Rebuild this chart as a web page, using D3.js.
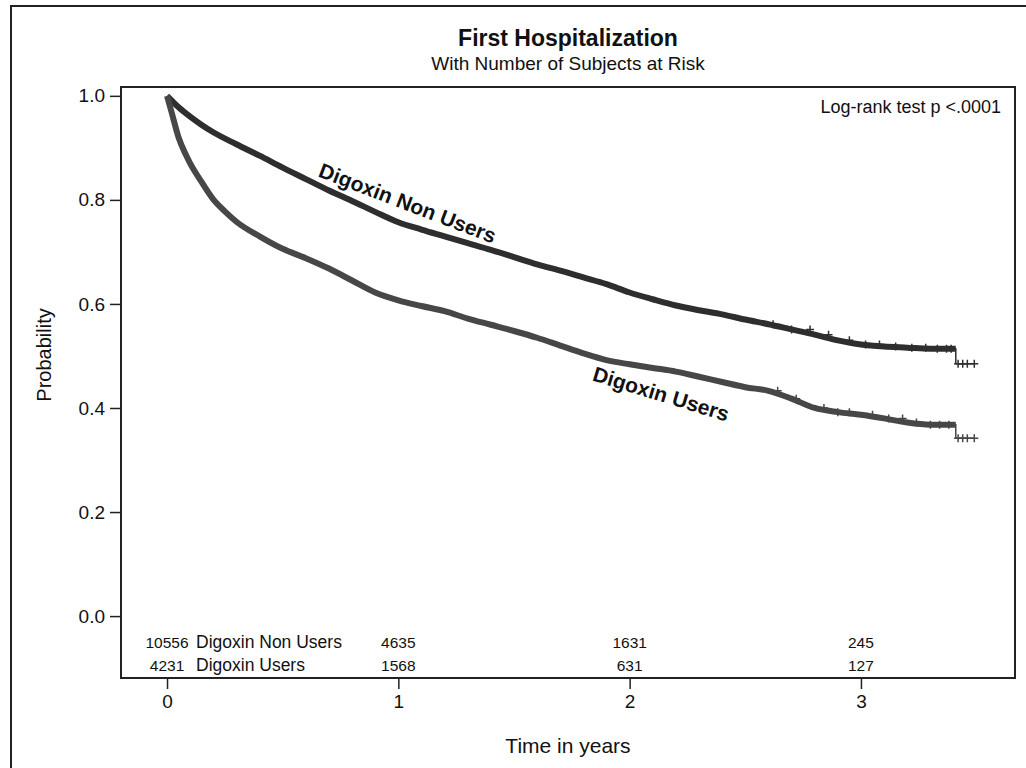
<!DOCTYPE html>
<meta charset="utf-8">
<script src="https://d3js.org/d3.v7.min.js"></script>
<style>
  body { margin: 0; background: #fff; }
  text { font-family: Arial, "Liberation Sans", sans-serif; fill: #111; }
</style>
<div id="my_dataviz"></div>
<script>
  // Kaplan-Meier estimates (time in years, survival probability)
  var nonUserTimes = [0, 0.05, 0.1, 0.15, 0.2, 0.3, 0.4, 0.5, 0.6, 0.7, 0.8, 0.9, 1.0, 1.1, 1.2, 1.3, 1.4, 1.5, 1.6, 1.7, 1.8, 1.9, 2.0, 2.1, 2.2, 2.3, 2.4, 2.5, 2.6, 2.7, 2.8, 2.9, 3.0, 3.1, 3.2, 3.3, 3.41, 3.49];
  var nonUserProb  = [1.0, 0.978, 0.960, 0.944, 0.930, 0.907, 0.885, 0.862, 0.840, 0.818, 0.798, 0.777, 0.757, 0.743, 0.730, 0.717, 0.704, 0.690, 0.676, 0.664, 0.651, 0.638, 0.622, 0.609, 0.597, 0.588, 0.580, 0.570, 0.561, 0.551, 0.541, 0.530, 0.522, 0.518, 0.516, 0.514, 0.485, 0.485];
  var userTimes = [0, 0.02, 0.05, 0.08, 0.1, 0.15, 0.2, 0.25, 0.3, 0.4, 0.5, 0.6, 0.7, 0.8, 0.9, 1.0, 1.1, 1.2, 1.3, 1.4, 1.5, 1.6, 1.7, 1.8, 1.9, 2.0, 2.1, 2.2, 2.3, 2.4, 2.5, 2.6, 2.7, 2.8, 2.9, 3.0, 3.1, 3.2, 3.3, 3.41, 3.49];
  var userProb  = [1.0, 0.968, 0.920, 0.888, 0.870, 0.834, 0.801, 0.778, 0.758, 0.730, 0.706, 0.688, 0.668, 0.645, 0.622, 0.607, 0.596, 0.586, 0.572, 0.560, 0.548, 0.535, 0.520, 0.505, 0.492, 0.484, 0.477, 0.470, 0.460, 0.450, 0.440, 0.433, 0.418, 0.400, 0.392, 0.387, 0.380, 0.372, 0.368, 0.342, 0.342];

  // censoring marks visible in the tail
  var nonUserCensor = [2.62, 2.7, 2.78, 2.86, 2.95, 3.02, 3.08, 3.15, 3.22, 3.28, 3.33, 3.37, 3.39, 3.42, 3.44, 3.46, 3.49];
  var userCensor = [2.64, 2.72, 2.84, 2.9, 2.95, 3.05, 3.12, 3.18, 3.24, 3.3, 3.34, 3.38, 3.42, 3.44, 3.46, 3.49];

  // number at risk table
  var riskTimes = [0, 1, 2, 3];
  var riskNonUsers = [10556, 4635, 1631, 245];
  var riskUsers = [4231, 1568, 631, 127];
  var groupNames = ["Digoxin Non Users", "Digoxin Users"];

  var xTicks = [0, 1, 2, 3];
  var yTicks = [0.0, 0.2, 0.4, 0.6, 0.8, 1.0];

  var width = 1026, height = 768;
  var plotLeft = 121, plotTop = 87, plotRight = 1015, plotBottom = 678;

  var svg = d3.select("#my_dataviz")
    .append("svg")
    .attr("width", width)
    .attr("height", height);

  // outer frame (cut off at right and bottom)
  svg.append("rect")
    .attr("x", 11).attr("y", 6)
    .attr("width", 1040).attr("height", 800)
    .attr("fill", "none").attr("stroke", "#222").attr("stroke-width", 2);

  var x = d3.scaleLinear().domain([-0.199, 3.666]).range([plotLeft, plotRight]);
  var y = d3.scaleLinear().domain([-0.119, 1.017]).range([plotBottom, plotTop]);

  // plot frame
  svg.append("rect")
    .attr("x", plotLeft).attr("y", plotTop)
    .attr("width", plotRight - plotLeft).attr("height", plotBottom - plotTop)
    .attr("fill", "none").attr("stroke", "#222").attr("stroke-width", 2);

  // axes
  var yAxis = svg.append("g")
    .attr("transform", "translate(" + plotLeft + ",0)")
    .call(d3.axisLeft(y).tickValues(yTicks).tickFormat(d3.format(".1f")).tickSize(11).tickPadding(5));
  var xAxis = svg.append("g")
    .attr("transform", "translate(0," + plotBottom + ")")
    .call(d3.axisBottom(x).tickValues(xTicks).tickFormat(d3.format("d")).tickSize(11).tickPadding(6));
  [xAxis, yAxis].forEach(function (a) {
    a.select(".domain").remove();
    a.selectAll("line").attr("stroke", "#222").attr("stroke-width", 1.5);
    a.selectAll("text").style("font-size", "19px").style("font-family", "Arial, 'Liberation Sans', sans-serif").attr("fill", "#111");
  });

  // the KM curves have thousands of tiny steps, so the main part reads as a smooth band
  var smooth = d3.line()
    .x(function (d) { return x(d[0]); })
    .y(function (d) { return y(d[1]); })
    .curve(d3.curveMonotoneX);
  var step = d3.line()
    .x(function (d) { return x(d[0]); })
    .y(function (d) { return y(d[1]); })
    .curve(d3.curveStepAfter);

  var groups = [
    { times: nonUserTimes, prob: nonUserProb, censor: nonUserCensor, color: "#2e2e2e" },
    { times: userTimes, prob: userProb, censor: userCensor, color: "#474747" }
  ];

  function stepAt(g, t) {
    var i = d3.bisectRight(g.times, t) - 1;
    return g.prob[Math.max(0, i)];
  }

  groups.forEach(function (g) {
    var pts = g.times.map(function (t, i) { return [t, g.prob[i]]; });
    var n = pts.length;
    // thick main curve up to the last drop
    svg.append("path")
      .datum(pts.slice(0, n - 2).concat([[g.times[n - 2], g.prob[n - 3]]]))
      .attr("d", smooth)
      .attr("fill", "none")
      .attr("stroke", g.color)
      .attr("stroke-width", 6)
      .attr("stroke-linejoin", "round");
    // thin drop + tail
    svg.append("path")
      .datum(pts.slice(n - 3))
      .attr("d", step)
      .attr("fill", "none")
      .attr("stroke", g.color)
      .attr("stroke-width", 1.5);
    // censor marks
    svg.selectAll(null)
      .data(g.censor)
      .enter()
      .append("path")
      .attr("transform", function (t) { return "translate(" + x(t) + "," + y(stepAt(g, t)) + ")"; })
      .attr("d", "M-4,0H4M0,-4V4")
      .attr("stroke", g.color)
      .attr("stroke-width", 1.5);
  });

  // curve labels
  svg.append("text")
    .attr("transform", "translate(405,210) rotate(21)")
    .attr("text-anchor", "middle")
    .style("font-size", "21px").style("font-weight", "bold")
    .text("Digoxin Non Users");
  svg.append("text")
    .attr("transform", "translate(659,401) rotate(17)")
    .attr("text-anchor", "middle")
    .style("font-size", "21px").style("font-weight", "bold")
    .text("Digoxin Users");

  // titles
  svg.append("text")
    .attr("x", (plotLeft + plotRight) / 2).attr("y", 46)
    .attr("text-anchor", "middle")
    .style("font-size", "23px").style("font-weight", "bold")
    .text("First Hospitalization");
  svg.append("text")
    .attr("x", (plotLeft + plotRight) / 2).attr("y", 70)
    .attr("text-anchor", "middle")
    .style("font-size", "19px")
    .text("With Number of Subjects at Risk");

  svg.append("text")
    .attr("x", 1001).attr("y", 113)
    .attr("text-anchor", "end")
    .style("font-size", "18px")
    .text("Log-rank test p <.0001");

  // axis labels
  svg.append("text")
    .attr("transform", "translate(51,355) rotate(-90)")
    .attr("text-anchor", "middle")
    .style("font-size", "20px")
    .text("Probability");
  svg.append("text")
    .attr("x", (plotLeft + plotRight) / 2).attr("y", 753)
    .attr("text-anchor", "middle")
    .style("font-size", "21px")
    .text("Time in years");

  // at-risk rows
  [riskNonUsers, riskUsers].forEach(function (row, r) {
    var yy = 648 + r * 23;
    svg.selectAll(null)
      .data(row)
      .enter()
      .append("text")
      .attr("x", function (d, i) { return x(riskTimes[i]); })
      .attr("y", yy)
      .attr("text-anchor", "middle")
      .style("font-size", "15.5px")
      .text(function (d) { return d; });
    svg.append("text")
      .attr("x", x(0) + 29).attr("y", yy)
      .style("font-size", "17.5px")
      .text(groupNames[r]);
  });
</script>
